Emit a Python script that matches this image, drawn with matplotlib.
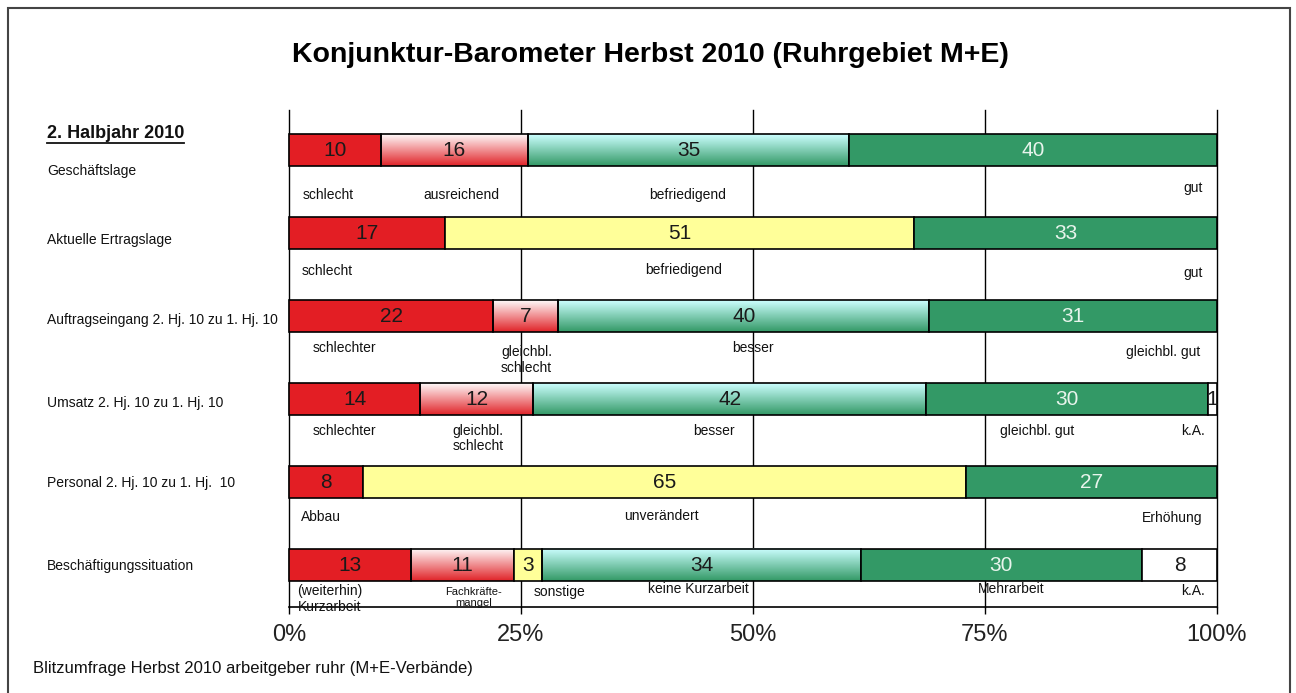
import numpy as np
import matplotlib
matplotlib.use("Agg")
import matplotlib.pyplot as plt
from matplotlib.lines import Line2D
from matplotlib.patches import Rectangle
import matplotlib.transforms as mtransforms

plt.rcParams['font.family'] = ['Liberation Sans', 'DejaVu Sans']

# ---------------- data ----------------
title = "Konjunktur-Barometer Herbst 2010 (Ruhrgebiet M+E)"
header = "2. Halbjahr 2010"
footer = "Blitzumfrage Herbst 2010 arbeitgeber ruhr (M+E-Verbände)"

row_labels = ["Geschäftslage", "Aktuelle Ertragslage",
              "Auftragseingang 2. Hj. 10 zu 1. Hj. 10",
              "Umsatz 2. Hj. 10 zu 1. Hj. 10",
              "Personal 2. Hj. 10 zu 1. Hj.  10",
              "Beschäftigungssituation"]

vals_geschaeftslage = [10, 16, 35, 40]
vals_ertragslage = [17, 51, 33]
vals_auftragseingang = [22, 7, 40, 31]
vals_umsatz = [14, 12, 42, 30, 1]
vals_personal = [8, 65, 27]
vals_beschaeftigung = [13, 11, 3, 34, 30, 8]

kinds_geschaeftslage = ["red", "pink", "teal", "green"]
kinds_ertragslage = ["red", "yellow", "green"]
kinds_auftragseingang = ["red", "pink", "teal", "green"]
kinds_umsatz = ["red", "pink", "teal", "green", "white"]
kinds_personal = ["red", "yellow", "green"]
kinds_beschaeftigung = ["red", "pink", "yellow", "teal", "green", "white"]

cats_geschaeftslage = ["schlecht", "ausreichend", "befriedigend", "gut"]
cats_ertragslage = ["schlecht", "befriedigend", "gut"]
cats_auftragseingang = ["schlechter", "gleichbl.\nschlecht", "besser", "gleichbl. gut"]
cats_umsatz = ["schlechter", "gleichbl.\nschlecht", "besser", "gleichbl. gut", "k.A."]
cats_personal = ["Abbau", "unverändert", "Erhöhung"]
cats_beschaeftigung = ["(weiterhin)\nKurzarbeit", "Fachkräfte-\nmangel", "sonstige",
                       "keine Kurzarbeit", "Mehrarbeit", "k.A."]

tick_vals = [0, 0.25, 0.5, 0.75, 1.0]
tick_labels = ["0%", "25%", "50%", "75%", "100%"]

rows_vals = [vals_geschaeftslage, vals_ertragslage, vals_auftragseingang,
             vals_umsatz, vals_personal, vals_beschaeftigung]
rows_kinds = [kinds_geschaeftslage, kinds_ertragslage, kinds_auftragseingang,
              kinds_umsatz, kinds_personal, kinds_beschaeftigung]
rows_cats = [cats_geschaeftslage, cats_ertragslage, cats_auftragseingang,
             cats_umsatz, cats_personal, cats_beschaeftigung]

# ---------------- layout (category label placement: x in axis fraction, dy in row units) ----------------
cat_pos = [
    [(0.042, 0.54), (0.186, 0.54), (0.430, 0.54), (0.974, 0.46)],
    [(0.041, 0.46), (0.425, 0.44), (0.974, 0.48)],
    [(0.060, 0.39), (0.256, 0.53), (0.500, 0.39), (0.942, 0.43)],
    [(0.060, 0.39), (0.204, 0.48), (0.458, 0.39), (0.806, 0.39), (0.974, 0.39)],
    [(0.034, 0.42), (0.401, 0.41), (0.952, 0.43)],
    [(0.044, 0.41), (0.199, 0.39), (0.291, 0.33), (0.441, 0.29), (0.778, 0.29), (0.974, 0.31)],
]
row_label_dy = [0.25, 0.08, 0.05, 0.05, 0.01, 0.01]

solid = {"red": "#E31E24", "green": "#339966", "yellow": "#FFFF99", "white": "#FFFFFF"}
grad = {"pink": ((1.0, 0.98, 0.98), (0.88, 0.14, 0.16)),
        "teal": ((0.80, 1.0, 1.0), (0.20, 0.60, 0.40))}
txtcol = {"red": "#1a1a1a", "pink": "#1a1a1a", "teal": "#1a1a1a", "yellow": "#1a1a1a",
          "white": "#1a1a1a", "green": "#E8F4EC"}

W, H = 1296, 693
fig = plt.figure(figsize=(W / 100, H / 100), dpi=100)
fig.patch.set_facecolor("white")

ax_l, ax_r, ax_t, ax_b = 289, 1217, 110, 607
ax = fig.add_axes([ax_l / W, 1 - ax_b / H, (ax_r - ax_l) / W, (ax_b - ax_t) / H])
ax.set_facecolor("none")

bar_h = 32 / 83
ylim = (5 + 42 / 83, -40 / 83)

# vertical grid lines
for tv in tick_vals:
    ax.axvline(tv, color="black", lw=1.0, zorder=1, clip_on=False)

for i, (vals, kinds, cats) in enumerate(zip(rows_vals, rows_kinds, rows_cats)):
    v = np.array(vals, dtype=float)
    share = v / v.sum()
    lefts = np.concatenate([[0], np.cumsum(share)[:-1]])
    fcs = [solid.get(k, "none") for k in kinds]
    bars = ax.barh([i] * len(v), share, left=lefts, height=bar_h,
                   color=fcs, edgecolor="black", linewidth=1.2, zorder=3)
    for patch, k, val in zip(bars.patches, kinds, vals):
        patch.set_clip_on(False)
        x0, y0 = patch.get_x(), patch.get_y()
        w, h = patch.get_width(), patch.get_height()
        if k in grad:
            c0, c1 = np.array(grad[k][0]), np.array(grad[k][1])
            t = np.linspace(0, 1, 64)[:, None]
            img = (c0 * (1 - t) + c1 * t)[:, None, :]
            ax.imshow(img, extent=(x0, x0 + w, y0 + h, y0), origin="upper",
                      aspect="auto", zorder=2, interpolation="bilinear")
        ax.text(x0 + w / 2, y0 + h / 2 + 0.01, str(val), ha="center", va="center",
                fontsize=15, color=txtcol[k], zorder=5)
    for c, (px, dy) in zip(cats, cat_pos[i]):
        fs = 8 if c.startswith("Fachkr") else 10
        ax.text(px, i + dy, c, ha="center", va="center", fontsize=fs,
                color="#111111", linespacing=1.1, zorder=6)

ax.set_xlim(0, 1)
ax.set_ylim(*ylim)
ax.set_xticks(tick_vals)
ax.set_xticklabels(tick_labels, fontsize=17, color="#222222")
ax.set_yticks([])
for s in ["top", "left", "right"]:
    ax.spines[s].set_visible(False)
ax.spines["bottom"].set_linewidth(1.2)
ax.tick_params(axis="x", direction="out", length=5, width=1.0, pad=7)

# left row labels
trans = mtransforms.blended_transform_factory(fig.transFigure, ax.transData)
for i, lab in enumerate(row_labels):
    ax.text(47 / W, i + row_label_dy[i], lab, transform=trans, ha="left",
            va="center", fontsize=10, color="#111111")

# header, title, footer
ht = fig.text(47 / W, 1 - 133 / H, header, ha="left", va="center",
              fontsize=13, fontweight="bold", color="#111111")
fig.text(650 / W, 1 - 55 / H, title, ha="center", va="center",
         fontsize=20.5, fontweight="bold", color="black")
fig.text(33 / W, 1 - 668 / H, footer, ha="left", va="center",
         fontsize=12, color="#111111")

fig.canvas.draw()
bb = ht.get_window_extent(renderer=fig.canvas.get_renderer())
bbf = bb.transformed(fig.transFigure.inverted())
fig.add_artist(Line2D([bbf.x0, bbf.x1], [bbf.y0 - 1.5 / H, bbf.y0 - 1.5 / H],
                      transform=fig.transFigure, color="#111111", lw=1.3))

# outer border
fig.add_artist(Rectangle((8 / W, -0.01), (1290 - 8) / W, 1 - 8 / H + 0.01,
                         transform=fig.transFigure, fill=False,
                         edgecolor="#444444", lw=1.5))

fig.savefig("out.png", dpi=100)
